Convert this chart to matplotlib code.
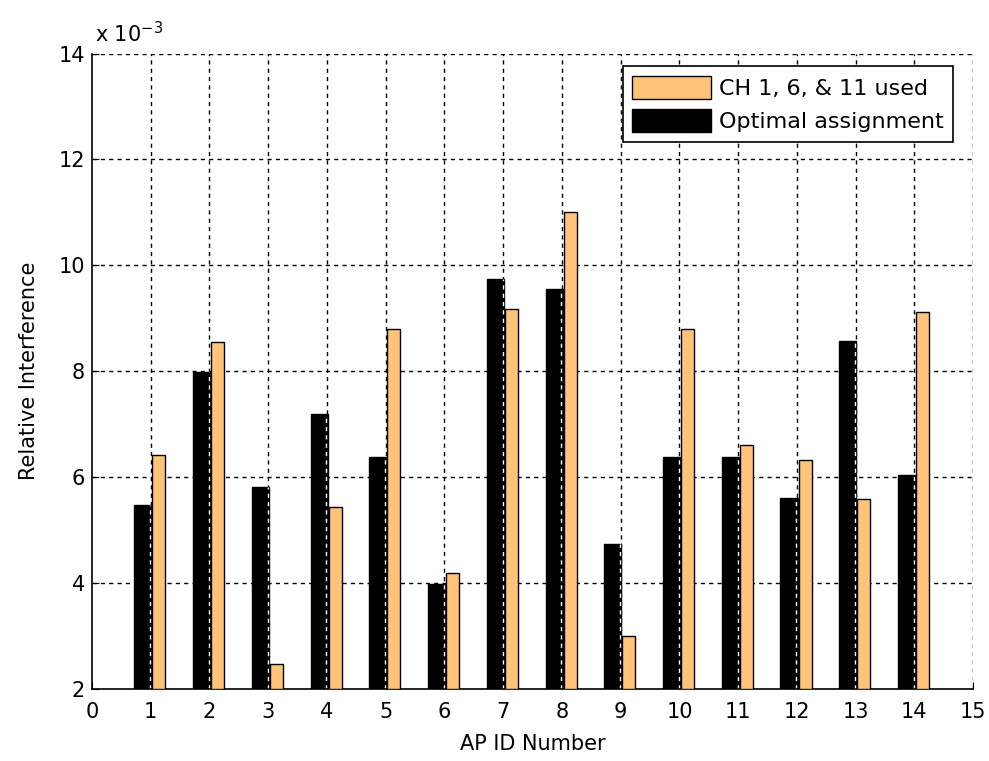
import numpy as np
import matplotlib
matplotlib.use("Agg")
import matplotlib.pyplot as plt

plt.rcParams["font.family"] = ["DejaVu Sans"]
plt.rcParams["mathtext.default"] = "regular"

# dados (x 10^-3)
ap_ids = list(range(1, 15))
optimal = [5.48, 7.98, 5.82, 7.19, 6.38, 3.98, 9.74, 9.55, 4.73, 6.38, 6.38, 5.60, 8.57, 6.04]
ch_1_6_11 = [6.41, 8.56, 2.47, 5.43, 8.79, 4.19, 9.17, 11.01, 3.01, 8.79, 6.61, 6.33, 5.59, 9.12]
xticks = list(range(0, 16))
yticks = [2, 4, 6, 8, 10, 12, 14]

laranja = "#FFC479"
x = np.array(ap_ids)
fs = 15

fig = plt.figure(figsize=(9.89, 7.61), dpi=100)
ax = fig.add_axes([0.093, 0.0946, 0.891, 0.835])

# grade tracejada atras das barras
for xv in xticks[1:]:
    ax.axvline(xv, color="black", lw=1, ls=(0, (3, 3)), zorder=0)
for yv in yticks[1:]:
    ax.axhline(yv, color="black", lw=1, ls=(0, (3, 3)), zorder=0)

ax.bar(x - 0.135, np.array(optimal) - 2, width=0.29, bottom=2, color="black",
       edgecolor="black", lw=1, zorder=2, label="Optimal assignment")
ax.bar(x + 0.14, np.array(ch_1_6_11) - 2, width=0.22, bottom=2, color=laranja,
       edgecolor="black", lw=1, zorder=3, label="CH 1, 6, & 11 used")

# tracejado branco sobre as barras pretas (efeito do MATLAB)
ax.vlines(x - 0.01, 2, optimal, color="white", lw=1, ls=(0, (3, 3)), zorder=2.5)

ax.set_xlim(0, 15)
ax.set_ylim(2, 14)
ax.set_xticks(xticks)
ax.set_yticks(yticks)
ax.tick_params(direction="in", length=5, labelsize=fs, colors="black")
ax.tick_params(axis="x", pad=9)
ax.tick_params(axis="y", pad=5)
ax.spines["top"].set_visible(False)
ax.spines["right"].set_visible(False)
ax.spines["left"].set_linewidth(1.2)
ax.spines["bottom"].set_linewidth(1.2)

ax.set_xlabel("AP ID Number", fontsize=fs, labelpad=9)
ax.set_ylabel("Relative Interference", fontsize=fs, labelpad=14)
ax.text(0.003, 1.012, "x 10$^{-3}$", transform=ax.transAxes, fontsize=fs,
        ha="left", va="bottom")

h, l = ax.get_legend_handles_labels()
leg = ax.legend(h[::-1], l[::-1], loc="upper right", bbox_to_anchor=(0.977, 0.98),
                borderaxespad=0, fontsize=16, fancybox=False, framealpha=1,
                edgecolor="black", handlelength=3.55, handleheight=1.26,
                borderpad=0.42, labelspacing=0.42, handletextpad=0.35)
leg.get_frame().set_linewidth(1.2)

plt.savefig("out.png", dpi=100)
